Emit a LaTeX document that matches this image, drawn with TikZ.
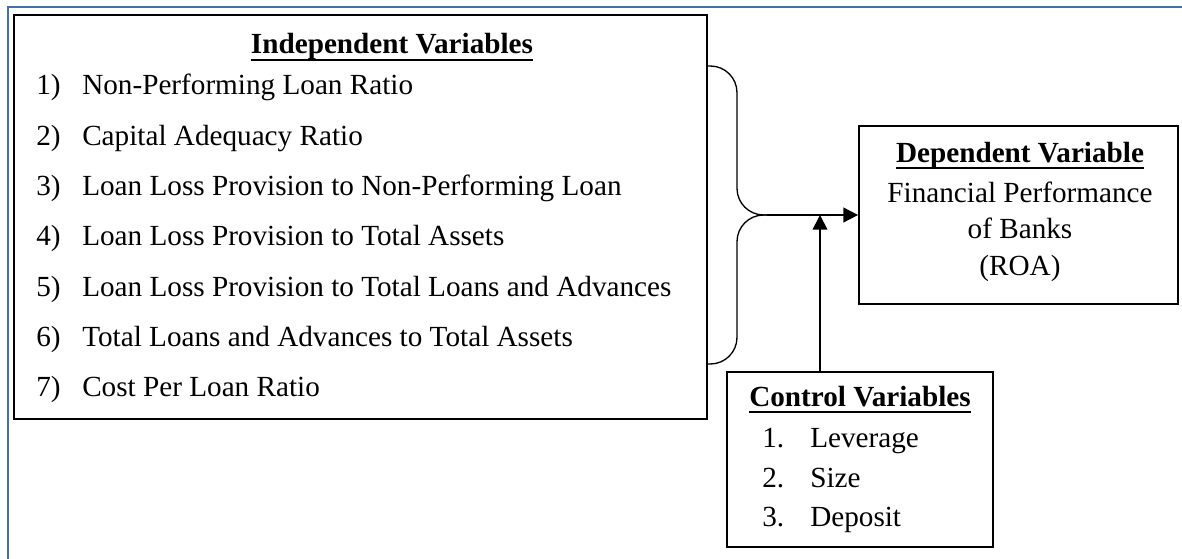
\documentclass[tikz,border=0pt]{standalone}
\usepackage{fontspec}
\setmainfont{Liberation Serif}
\usepackage{xcolor}
\usepackage{tikz}
\usetikzlibrary{arrows.meta}
\usetikzlibrary{shapes,positioning}
\definecolor{pageblue}{RGB}{65,113,170}
\tikzset{var-box/.style={draw, line width=1.3pt, inner sep=0pt}}
\tikzset{item-text/.style={anchor=base west, inner sep=0pt, font=\fontsize{21.9}{26}\selectfont}}
\tikzset{line-text/.style={anchor=base, inner sep=0pt, font=\fontsize{21.9}{26}\selectfont}}
\tikzset{title-text/.style={anchor=base, inner sep=0pt, font=\fontsize{21.9}{26}\selectfont\bfseries}}
\tikzset{title-rule/.style={line width=1.6pt}}
\tikzset{brace-line/.style={line width=1pt, rounded corners=20pt}}
\tikzset{>={Triangle[length=11pt,width=11pt]}}

\begin{document}
\begin{tikzpicture}[x=0.75pt, y=-0.75pt]
            \useasboundingbox (0,0) rectangle (1182,559);
            \draw [pageblue, line width=1.2pt] (8,559) -- (8,7) -- (1182,7);

            % the three boxes
            \node [var-box, line width=1.5pt, minimum width=519.75pt, minimum height=303pt] (indep) at (360.5,217) {};
            \node [var-box, minimum width=239.25pt, minimum height=133.5pt] (dep) at (1018.5,215) {};
            \node [var-box, minimum width=199.5pt, minimum height=131.25pt] (ctrl) at (860,459.5) {};

            \node [title-text] (indep-title) at (392,54) {Independent Variables};
            \draw [title-rule] ([yshift=-4.5pt]indep-title.base west) -- ([yshift=-4.5pt]indep-title.base east);
            \foreach \txt [count=\i] in {Non-Performing Loan Ratio, Capital Adequacy Ratio,
                    Loan Loss Provision to Non-Performing Loan, Loan Loss Provision to Total Assets,
                    Loan Loss Provision to Total Loans and Advances,
                    Total Loans and Advances to Total Assets, Cost Per Loan Ratio} {
                \node [item-text] (indep-num-\i) at (36,{95+50.3*(\i-1)}) {\i)};
                \node [item-text] (indep-\i) at (82,{95+50.3*(\i-1)}) {\txt};
            }

            \node [title-text] (dep-title) at (1020,163) {Dependent Variable};
            \draw [title-rule] ([yshift=-4pt]dep-title.base west) -- ([yshift=-4pt]dep-title.base east);
            \node [line-text] (dep-1) at (1020,203) {Financial Performance};
            \node [line-text] (dep-2) at (1020,239) {of Banks};
            \node [line-text] (dep-3) at (1020,276) {(ROA)};

            \node [title-text] (ctrl-title) at (860,407) {Control Variables};
            \draw [title-rule] ([yshift=-3.5pt]ctrl-title.base west) -- ([yshift=-3.5pt]ctrl-title.base east);
            \foreach \txt [count=\i] in {Leverage, Size, Deposit} {
                \node [item-text] (ctrl-num-\i) at (762,{448+39.5*(\i-1)}) {\i.};
                \node [item-text] (ctrl-\i) at (810,{448+39.5*(\i-1)}) {\txt};
            }

            % brace and arrows
            \coordinate (tip) at (767,215);
            \coordinate (join) at (820,215);
            \draw [brace-line] (indep.east |- 0,66) -- (737,66) -- (737,215) -- (tip);
            \draw [brace-line] (indep.east |- 0,364) -- (737,364) -- (737,215) -- (tip);
            \draw [->, line width=1.3pt] (tip) -- (dep.west);
            \draw [->, line width=1.3pt] (join |- ctrl.north) -- (join);
        \end{tikzpicture}
\end{document}
